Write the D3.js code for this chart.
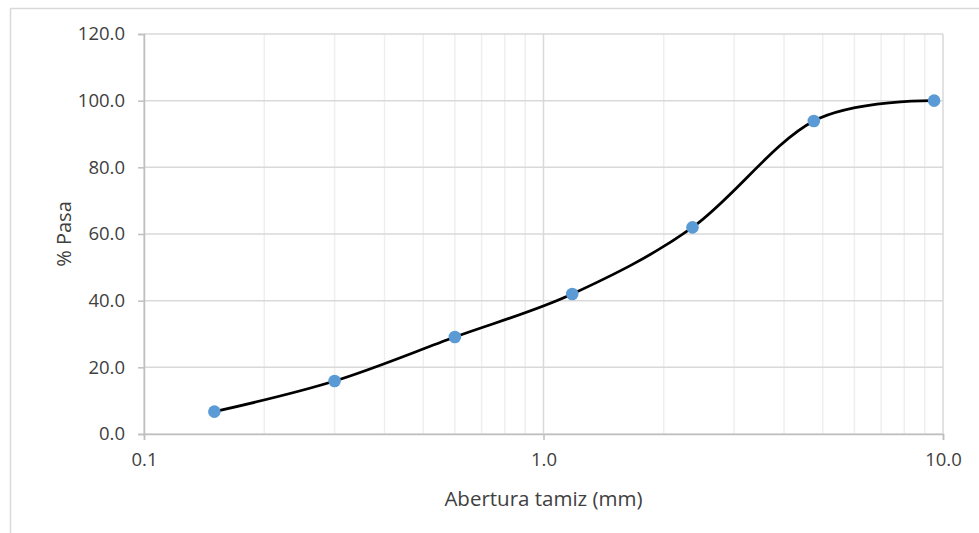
<!DOCTYPE html>
<html>
<head>
<meta charset="utf-8">
<script src="https://cdn.jsdelivr.net/npm/d3@7"></script>
<style>
    body { margin: 0; background: #fff; }
    text { font-family: "Open Sans", "Liberation Sans", Arial, sans-serif; }
</style>
</head>
<body>
<div id="chart"></div>
<script>

// sieve openings (mm) and % passing
let aberturas = [0.15, 0.3, 0.6, 1.18, 2.36, 4.75, 9.5];
let pasa = [6.7, 15.9, 29.1, 42.0, 62.0, 93.9, 100.0];

let yTicks = [0, 20, 40, 60, 80, 100, 120];
let xTicks = [0.1, 1, 10];

let data = aberturas.map((d, i) => ({x: d, y: pasa[i]}));

let W = 979, H = 533;
let margin = {top: 34, right: 36, bottom: 99, left: 144};
let width = W - margin.left - margin.right;
let height = H - margin.top - margin.bottom;
let fontFam = "Open Sans, Liberation Sans, Arial, sans-serif";

let svg = d3.select("#chart").append("svg")
    .attr("width", W)
    .attr("height", H);

// outer chart border
svg.append("rect")
    .attr("x", 10.5).attr("y", 8.5)
    .attr("width", 1000).attr("height", 600)
    .attr("fill", "none")
    .attr("stroke", "#d9d9d9")
    .attr("stroke-width", 1.5);

let g = svg.append("g")
    .attr("transform", `translate(${margin.left}, ${margin.top})`);

let x = d3.scaleLog().domain([0.1, 10]).range([0, width]);
let y = d3.scaleLinear().domain([0, 120]).range([height, 0]);

// minor vertical gridlines
let minors = [];
[0.1, 1].forEach(dec => { for (let k = 2; k <= 9; k++) minors.push(dec * k); });

g.append("g").selectAll("line")
    .data(minors)
    .join("line")
    .attr("x1", d => x(d)).attr("x2", d => x(d))
    .attr("y1", 0).attr("y2", height)
    .attr("stroke", "#efefef")
    .attr("stroke-width", 1.5);

// major vertical gridlines
g.append("g").selectAll("line")
    .data(xTicks)
    .join("line")
    .attr("x1", d => x(d)).attr("x2", d => x(d))
    .attr("y1", 0).attr("y2", height)
    .attr("stroke", "#d9d9d9")
    .attr("stroke-width", 1.5);

// horizontal gridlines
g.append("g").selectAll("line")
    .data(yTicks)
    .join("line")
    .attr("x1", 0).attr("x2", width)
    .attr("y1", d => y(d)).attr("y2", d => y(d))
    .attr("stroke", "#d9d9d9")
    .attr("stroke-width", 1.5);

// axes
let yAxis = g.append("g")
    .call(d3.axisLeft(y).tickValues(yTicks).tickFormat(d3.format(".1f")).tickSize(6).tickPadding(13));
let xAxis = g.append("g")
    .attr("transform", `translate(0, ${height})`)
    .call(d3.axisBottom(x).tickValues(xTicks).tickFormat(d3.format(".1f")).tickSize(6).tickPadding(13));

[yAxis, xAxis].forEach(ax => {
    ax.select(".domain").attr("stroke", "#bfbfbf").attr("stroke-width", 1.5);
    ax.selectAll(".tick line").attr("stroke", "#bfbfbf").attr("stroke-width", 1.5);
    ax.selectAll("text").attr("font-size", 18.5).attr("fill", "#404040")
        .attr("font-family", fontFam);
});

// smooth curve
let line = d3.line()
    .x(d => x(d.x))
    .y(d => y(d.y))
    .curve(d3.curveCatmullRom.alpha(0));

g.append("path")
    .datum(data)
    .attr("d", line)
    .attr("fill", "none")
    .attr("stroke", "#000")
    .attr("stroke-width", 2.8);

g.append("g").selectAll("circle")
    .data(data)
    .join("circle")
    .attr("cx", d => x(d.x))
    .attr("cy", d => y(d.y))
    .attr("r", 6.3)
    .attr("fill", "#5b9bd5");

// axis titles
svg.append("text")
    .attr("x", margin.left + width / 2)
    .attr("y", 506)
    .attr("text-anchor", "middle")
    .attr("font-size", 20.5)
    .attr("fill", "#404040")
    .text("Abertura tamiz (mm)");

svg.append("text")
    .attr("transform", `translate(71, ${margin.top + height / 2}) rotate(-90)`)
    .attr("text-anchor", "middle")
    .attr("font-size", 20)
    .attr("fill", "#404040")
    .text("% Pasa");

</script>
</body>
</html>
